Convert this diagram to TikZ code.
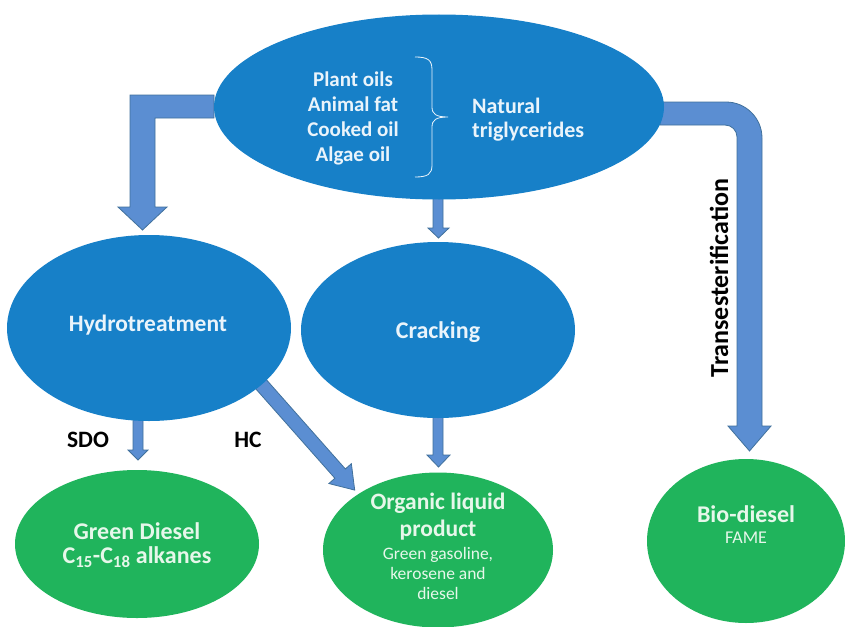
\documentclass[tikz,border=0pt]{standalone}
\usepackage{fontspec}
\setmainfont{Carlito}
\usetikzlibrary{shapes.geometric}
\definecolor{ellblue}{HTML}{1780C8}
\definecolor{ellgreen}{HTML}{20B45C}
\definecolor{arrfill}{HTML}{5B8ED2}
\definecolor{arrline}{HTML}{41719C}
\definecolor{lighttext}{HTML}{EAF4FB}
\definecolor{lightgreentext}{HTML}{E6F7EA}
\tikzset{
  blueell/.style={ellipse, fill=ellblue, draw=none, inner sep=0pt},
  greenell/.style={ellipse, fill=ellgreen, draw=none, inner sep=0pt},
  gtext/.style={text=lightgreentext, align=center, inner sep=0pt},
  btext/.style={text=lighttext, inner sep=0pt},
  barrow/.style={fill=arrfill, draw=arrline, line width=0.8pt, line join=miter},
  lbl/.style={font=\bfseries\fontsize{23.5}{26}\selectfont, text=black, inner sep=0pt},
  intext/.style={text=lighttext, font=\bfseries\fontsize{21}{25}\selectfont, inner sep=0pt}
}
\begin{document}
\begin{tikzpicture}[x=1pt,y=-1pt]
\path[use as bounding box, fill=white] (0,0) rectangle (845,626);

% block arrows (drawn beneath ellipses)
\draw[barrow] (214,95) -- (130,95) -- (130,207) -- (118,207) -- (142.5,230) -- (167,207) -- (155,207) -- (155,118) -- (214,118) -- cycle;
\draw[barrow] (660,102) -- (726,102) arc[start angle=-90, end angle=0, radius=36] -- (762,426) -- (771,426) -- (749.5,451) -- (728,426) -- (737,426) -- (737,137) arc[start angle=0, end angle=-90, radius=12] -- (660,125) -- cycle;
\draw[barrow] (433,190) -- (433,228) -- (428,228) -- (438.5,238) -- (449,228) -- (443,228) -- (443,190) -- cycle;
\draw[barrow] (433,410) -- (433,455) -- (427,455) -- (438.5,467) -- (450,455) -- (443,455) -- (443,410) -- cycle;
\draw[barrow] (133,410) -- (133,450) -- (128,450) -- (138,460) -- (148,450) -- (143,450) -- (143,410) -- cycle;
\begin{scope}[shift={(252,374)}, rotate=-48.5]
\draw[barrow] (0,-7) -- (133,-7) -- (133,-15) -- (155,0) -- (133,15) -- (133,7) -- (0,7) -- cycle;
\end{scope}

% ellipses
\node[blueell, minimum width=450, minimum height=185] (top) at (439,107) {};
\node[blueell, minimum width=284, minimum height=186] (hydro) at (149,328) {};
\node[blueell, minimum width=274, minimum height=176] (crack) at (438,330) {};
\node[greenell, minimum width=244, minimum height=148] (gd) at (137,544) {};
\node[greenell, minimum width=230, minimum height=155] (olp) at (438,550) {};
\node[greenell, minimum width=198, minimum height=164] (bio) at (746,541) {};

% ellipse texts
\node[btext, font=\bfseries\fontsize{23.5}{26}\selectfont] (hydrot) at (148,325) {Hydrotreatment};
\node[btext, font=\bfseries\fontsize{24}{26}\selectfont] (crackt) at (438,332) {Cracking};
\node[gtext, font=\bfseries\fontsize{24}{24}\selectfont] (gdt) at (137,545) {Green Diesel\\C\textsubscript{15}-C\textsubscript{18} alkanes};

% top ellipse content
\node[intext, align=center] (list) at (353,118) {Plant oils\\Animal fat\\Cooked oil\\Algae oil};
\node[intext, align=left, anchor=west, font=\bfseries\fontsize{22}{24}\selectfont] (nat) at (472,120) {Natural\\triglycerides};
\draw[lighttext, line width=0.8pt] (415,57) .. controls (428,57) and (432,60) .. (432,70) -- (432,107) .. controls (432,114) and (436,117) .. (448,117) .. controls (436,117) and (432,120) .. (432,127) -- (432,165) .. controls (432,174) and (428,177) .. (415,177);

% organic liquid product text
\node[gtext, font=\bfseries\fontsize{23.5}{27}\selectfont] (olpt) at (438,517) {Organic liquid\\product};
\node[gtext, font=\fontsize{17.5}{20}\selectfont] (olps) at (438,573) {Green gasoline,\\kerosene and\\diesel};

% bio-diesel text
\node[gtext, font=\bfseries\fontsize{24}{26}\selectfont] (biot) at (746,514) {Bio-diesel};
\node[gtext, font=\fontsize{18}{20}\selectfont] (bios) at (746,538) {FAME};

% labels
\node[lbl] (sdo) at (88,440) {SDO};
\node[lbl] (hc) at (248,440) {HC};
\node[lbl, rotate=90, font=\bfseries\fontsize{26}{28}\selectfont] (trans) at (719,278) {Transesterification};
\end{tikzpicture}
\end{document}
